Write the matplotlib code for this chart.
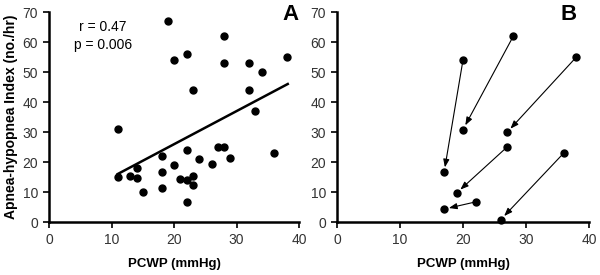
import matplotlib
matplotlib.use("Agg")
from matplotlib import pyplot as plt

plt.rcParams['font.family'] = ['Liberation Sans', 'DejaVu Sans']

# panel A: PCWP vs apnea-hypopnea index
pcwp = [19, 28, 22, 20, 28, 32, 34, 38, 23, 32, 33, 11, 11, 13, 14, 14, 15,
        18, 18, 18, 20, 22, 21, 22, 23, 23, 22, 24, 26, 27, 28, 29, 36]
ahi = [67, 62, 56, 54, 53, 53, 50, 55, 44, 44, 37, 31, 15, 15.5, 18, 14.7, 10,
       22, 16.6, 11.3, 19, 24, 14.5, 14.1, 15.5, 12.3, 6.7, 21, 19.5, 25, 25, 21.5, 23]
fit_x = [11, 38.2]
fit_y = [16, 46]

# panel B: before -> after treatment
before_x = [20, 28, 38, 27, 22, 36]
before_y = [54, 62, 55, 25, 6.7, 23]
after_x = [17, 20, 27, 19, 17, 26]
after_y = [16.6, 30.8, 29.9, 9.7, 4.3, 0.8]

fig = plt.figure(figsize=(6, 2.75), dpi=100)
axA = fig.add_axes([49 / 600, 53 / 275, 250 / 600, 210 / 275])
axB = fig.add_axes([337 / 600, 53 / 275, 252 / 600, 210 / 275])

for ax in (axA, axB):
    ax.set_xlim(0, 40)
    ax.set_ylim(0, 70)
    ax.set_xticks(range(0, 41, 10))
    ax.set_yticks(range(0, 71, 10))
    ax.spines['top'].set_visible(False)
    ax.spines['right'].set_visible(False)
    ax.spines['left'].set_linewidth(1.8)
    ax.spines['bottom'].set_linewidth(1.8)
    ax.tick_params(direction='out', length=4, width=1.2, labelsize=10,
                   labelcolor='#333333', pad=4)
    ax.set_xlabel("PCWP (mmHg)", fontsize=9.5, fontweight='bold', labelpad=8)

axA.plot(pcwp, ahi, 'o', color='black', markersize=5, clip_on=False)
axA.plot(fit_x, fit_y, color='black', lw=1.8)
axA.set_ylabel("Apnea-hypopnea Index (no./hr)", fontsize=10, fontweight='bold', labelpad=3)
axA.text(0.215, 0.93, "r = 0.47", transform=axA.transAxes, ha='center', va='center', fontsize=10)
axA.text(0.215, 0.845, "p = 0.006", transform=axA.transAxes, ha='center', va='center', fontsize=10)
axA.text(0.965, 0.99, "A", transform=axA.transAxes, ha='center', va='center',
         fontsize=16, fontweight='heavy')

axB.plot(before_x, before_y, 'o', color='black', markersize=5, clip_on=False)
axB.plot(after_x, after_y, 'o', color='black', markersize=5, clip_on=False)
for x0, y0, x1, y1 in zip(before_x, before_y, after_x, after_y):
    axB.annotate("", xy=(x1, y1), xytext=(x0, y0),
                 arrowprops=dict(arrowstyle='-|>,head_width=0.3,head_length=0.8',
                                 color='black', lw=0.8,
                                 shrinkA=0, shrinkB=3.5, mutation_scale=6))
axB.text(0.92, 0.99, "B", transform=axB.transAxes, ha='center', va='center',
         fontsize=16, fontweight='heavy')

fig.savefig("out.png", dpi=100)
